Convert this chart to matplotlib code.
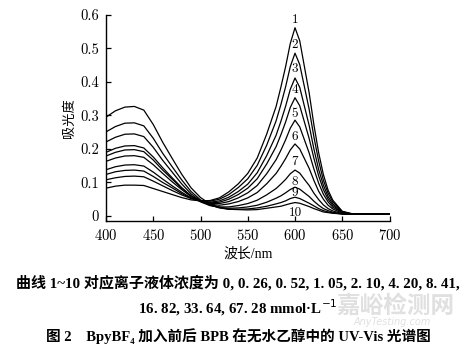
import matplotlib
matplotlib.use("Agg")
import matplotlib.pyplot as plt
from matplotlib.ticker import FixedLocator, FixedFormatter

plt.rcParams["axes.formatter.use_mathtext"] = True

# wavelength grid (nm)
wavelength = [400, 410, 420, 430, 440, 450, 460, 470, 480, 490, 500, 510, 520, 530, 540,
              550, 560, 570, 580, 585, 590, 595, 600, 605, 610, 615, 620, 625, 630, 635,
              640, 650, 660, 680, 700]

# absorbance of curves 1..10
curve1 = [0.083, 0.089, 0.092, 0.092, 0.091, 0.082, 0.073, 0.064, 0.055, 0.048, 0.045, 0.046,
          0.054, 0.072, 0.096, 0.127, 0.173, 0.244, 0.327, 0.384, 0.445, 0.515, 0.562, 0.523,
          0.445, 0.367, 0.272, 0.189, 0.124, 0.077, 0.047, 0.014, 0.007, 0.005, 0.005]
curve2 = [0.108, 0.114, 0.118, 0.119, 0.117, 0.104, 0.090, 0.076, 0.063, 0.052, 0.045, 0.044,
          0.050, 0.064, 0.085, 0.111, 0.151, 0.211, 0.284, 0.332, 0.385, 0.446, 0.486, 0.452,
          0.385, 0.318, 0.236, 0.164, 0.107, 0.068, 0.042, 0.013, 0.006, 0.005, 0.005]
curve3 = [0.124, 0.132, 0.136, 0.137, 0.134, 0.118, 0.100, 0.084, 0.067, 0.053, 0.044, 0.041,
          0.045, 0.056, 0.073, 0.095, 0.129, 0.180, 0.241, 0.282, 0.327, 0.378, 0.412, 0.384,
          0.327, 0.270, 0.200, 0.139, 0.092, 0.058, 0.036, 0.012, 0.006, 0.005, 0.005]
curve4 = [0.138, 0.147, 0.152, 0.153, 0.149, 0.131, 0.110, 0.090, 0.071, 0.054, 0.044, 0.039,
          0.041, 0.050, 0.064, 0.083, 0.111, 0.155, 0.207, 0.242, 0.280, 0.324, 0.353, 0.329,
          0.280, 0.231, 0.172, 0.120, 0.079, 0.050, 0.031, 0.011, 0.006, 0.005, 0.005]
curve5 = [0.163, 0.173, 0.179, 0.180, 0.175, 0.153, 0.127, 0.102, 0.079, 0.058, 0.045, 0.038,
          0.037, 0.043, 0.054, 0.069, 0.091, 0.126, 0.168, 0.196, 0.227, 0.262, 0.286, 0.266,
          0.227, 0.188, 0.140, 0.098, 0.065, 0.042, 0.026, 0.010, 0.006, 0.005, 0.005]
curve6 = [0.179, 0.190, 0.197, 0.198, 0.192, 0.167, 0.137, 0.110, 0.083, 0.060, 0.044, 0.035,
          0.032, 0.036, 0.043, 0.054, 0.070, 0.096, 0.127, 0.148, 0.171, 0.197, 0.215, 0.200,
          0.171, 0.142, 0.106, 0.074, 0.050, 0.032, 0.021, 0.008, 0.006, 0.005, 0.005]
curve7 = [0.190, 0.202, 0.209, 0.210, 0.203, 0.176, 0.144, 0.114, 0.085, 0.060, 0.042, 0.031,
          0.027, 0.027, 0.031, 0.037, 0.047, 0.063, 0.082, 0.095, 0.109, 0.126, 0.137, 0.128,
          0.109, 0.091, 0.068, 0.049, 0.033, 0.022, 0.015, 0.007, 0.005, 0.005, 0.005]
curve8 = [0.221, 0.235, 0.244, 0.245, 0.237, 0.205, 0.166, 0.131, 0.096, 0.066, 0.045, 0.032,
          0.025, 0.023, 0.024, 0.027, 0.032, 0.041, 0.053, 0.060, 0.069, 0.079, 0.086, 0.080,
          0.069, 0.058, 0.044, 0.032, 0.022, 0.016, 0.011, 0.006, 0.005, 0.005, 0.005]
curve9 = [0.251, 0.267, 0.277, 0.278, 0.269, 0.232, 0.187, 0.147, 0.108, 0.073, 0.048, 0.033,
          0.024, 0.020, 0.020, 0.021, 0.024, 0.029, 0.036, 0.040, 0.045, 0.052, 0.056, 0.052,
          0.045, 0.038, 0.030, 0.022, 0.016, 0.012, 0.009, 0.006, 0.005, 0.005, 0.005]
curve10 = [0.295, 0.314, 0.325, 0.327, 0.316, 0.273, 0.220, 0.172, 0.125, 0.084, 0.055, 0.036,
           0.026, 0.020, 0.019, 0.018, 0.019, 0.023, 0.027, 0.029, 0.033, 0.037, 0.040, 0.038,
           0.033, 0.028, 0.022, 0.017, 0.012, 0.010, 0.008, 0.006, 0.005, 0.005, 0.005]

curves = [curve1, curve2, curve3, curve4, curve5, curve6, curve7, curve8, curve9, curve10]
curve_labels = ["1", "2", "3", "4", "5", "6", "7", "8", "9", "10"]
label_y = [0.586, 0.512, 0.438, 0.376, 0.306, 0.235, 0.160, 0.102, 0.069, 0.008]

x_ticks = [400, 450, 500, 550, 600, 650, 700]
y_ticks = [0, 0.1, 0.2, 0.3, 0.4, 0.5, 0.6]
y_ticklabels = ["0", "0.1", "0.2", "0.3", "0.4", "0.5", "0.6"]

NUM_FONT = "cmr10"
CJK_SERIF = ["Liberation Serif", "Noto Sans CJK SC"]

fig = plt.figure(figsize=(4.76, 3.44), dpi=100)
fig.patch.set_facecolor("white")
ax = fig.add_axes([0.2227, 0.3576, 0.5956, 0.5988])

for ys in curves:
    ax.plot(wavelength, ys, color="black", linewidth=0.9, solid_joinstyle="round")

for lab, ly in zip(curve_labels, label_y):
    ax.text(600, ly, lab, ha="center", va="center", fontsize=9.5, family=NUM_FONT)

ax.set_xlim(400, 700)
ax.set_ylim(-0.015, 0.6)
ax.xaxis.set_major_locator(FixedLocator(x_ticks))
ax.yaxis.set_major_locator(FixedLocator(y_ticks))
ax.yaxis.set_major_formatter(FixedFormatter(y_ticklabels))
ax.tick_params(direction="in", length=3.5, width=0.9, labelsize=10.5, pad=5)
for t in ax.get_xticklabels() + ax.get_yticklabels():
    t.set_family(NUM_FONT)
for side in ("top", "right"):
    ax.spines[side].set_visible(False)
for side in ("left", "bottom"):
    ax.spines[side].set_linewidth(1.0)

ax.set_ylabel("吸光度", family="Noto Sans CJK SC", fontsize=9.5, labelpad=3)
ax.set_xlabel("波长/nm", family=CJK_SERIF, fontsize=10, labelpad=3)

# site watermark (sits under the caption, as in the source)
fig.text(395 / 476, 1 - 306 / 344, "嘉峪检测网", ha="center", va="center", fontsize=17,
         family="Noto Sans CJK SC", color="#e0e0e0", weight="bold", zorder=0)
fig.text(392 / 476, 1 - 322 / 344, "AnyTesting.com", ha="center", va="center", fontsize=7,
         family="DejaVu Sans", style="italic", color="#e0e0e0", zorder=0)

fig.text(0.5, 1 - 283 / 344, "曲线 1~10 对应离子液体浓度为 0, 0. 26, 0. 52, 1. 05, 2. 10, 4. 20, 8. 41,",
         ha="center", va="center", fontsize=10.8, family=CJK_SERIF, weight="bold", zorder=2)
fig.text(0.5, 1 - 308 / 344, "16. 82, 33. 64, 67. 28 mmol·L$^{-1}$",
         ha="center", va="center", fontsize=10.8, family=CJK_SERIF, weight="bold", zorder=2)
fig.text(0.5, 1 - 336 / 344, "图 2　BpyBF₄ 加入前后 BPB 在无水乙醇中的 UV-Vis 光谱图",
         ha="center", va="center", fontsize=10.5, family=CJK_SERIF, weight="bold", zorder=2)

fig.savefig("out.png", dpi=100)
